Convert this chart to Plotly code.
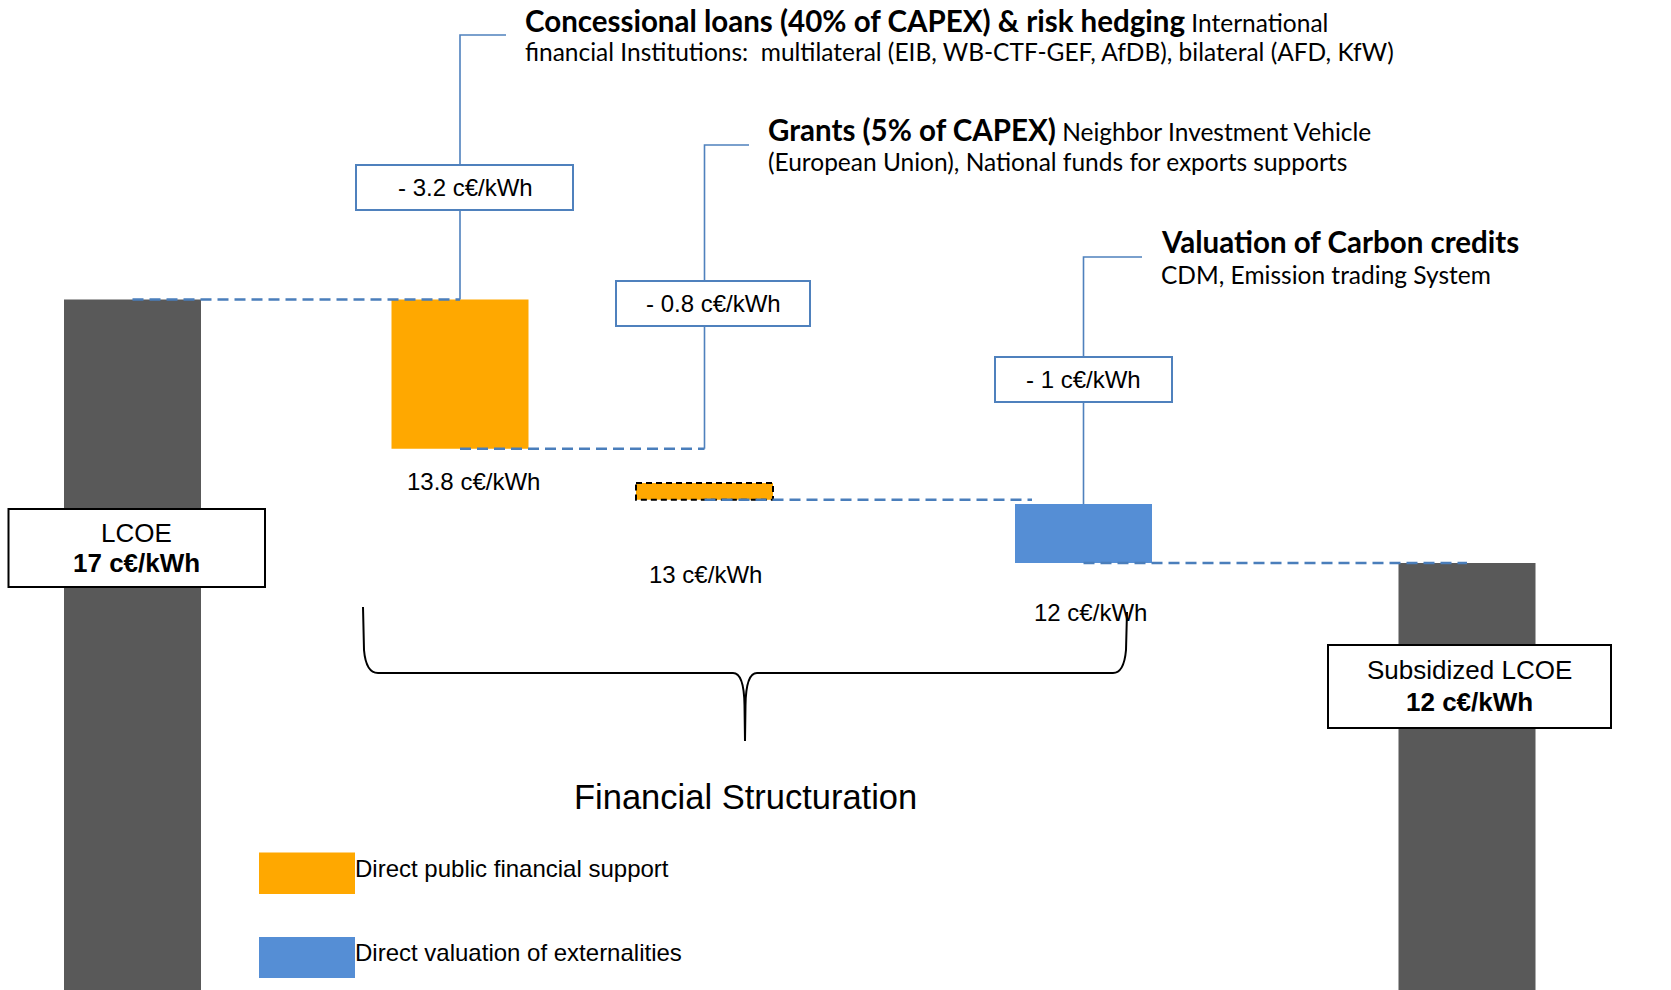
import plotly.graph_objects as go

# ---------------- data ----------------
stage_names = ["LCOE", "Concessional loans", "Grants", "Carbon credits", "Subsidized LCOE"]
stage_values = ["17 c€/kWh", "13.8 c€/kWh", "13 c€/kWh", "12 c€/kWh", "12 c€/kWh"]
reduction_labels = ["- 3.2 c€/kWh", "- 0.8 c€/kWh", "- 1 c€/kWh"]
# bar extents as drawn in the (schematic) picture, in c€/kWh
bar_top = [17.0, 17.0, 13.52, 13.12, 12.0]
bar_bottom = [0.0, 14.17, 13.20, 12.0, 0.0]
bar_kind = ["total", "public", "public", "externality", "total"]

callout_titles = [
    ("Concessional loans (40% of CAPEX) & risk hedging", " International",
     "financial Institutions:  multilateral (EIB, WB-CTF-GEF, AfDB), bilateral (AFD, KfW)"),
    ("Grants (5% of CAPEX)", " Neighbor Investment Vehicle",
     "(European Union), National funds for exports supports"),
    ("Valuation of Carbon credits", "", "CDM, Emission trading System"),
]
legend_items = [("public", "Direct public financial support"),
                ("externality", "Direct valuation of externalities")]

# ---------------- layout / styles ----------------
W, H = 1671, 990
Y0_PX, PX_PER_UNIT, Y0_VAL = 299.5, 52.7, 17.0


def px2v(p):
    return Y0_VAL - (p - Y0_PX) / PX_PER_UNIT


def pp(p):  # pixel y -> paper y
    return 1 - p / H


colors = {"total": "#595959", "public": "#FFA800", "externality": "#558ED5"}
LINE_BLUE = "#4F81BD"
DASH_BLUE = "#4A7EBB"
ARIAL = "Liberation Sans, Arial"
CALIBRI = "Lato, Carlito, Calibri"
BOLD_SIZE, NORMAL_SIZE = 29.5, 24.5

bar_x = [132.5, 460, 704.5, 1083.5, 1467]
bar_w = 137

fig = go.Figure()

heights = [t - b for t, b in zip(bar_top, bar_bottom)]
fig.add_trace(go.Bar(
    x=bar_x, y=heights, base=bar_bottom, width=bar_w,
    marker=dict(color=[colors[k] for k in bar_kind], line=dict(width=0)),
    hoverinfo="skip"))

# dashed outline of grants bar
i = 2
l, r = bar_x[i] - bar_w / 2, bar_x[i] + bar_w / 2
fig.add_trace(go.Scatter(
    x=[l, r, r, l, l], y=[bar_top[i], bar_top[i], bar_bottom[i], bar_bottom[i], bar_top[i]],
    mode="lines", line=dict(color="black", width=2, dash="6px,4px"), hoverinfo="skip"))

# dashed connectors between steps
connectors = [
    (bar_x[0], bar_x[1], bar_top[0]),
    (bar_x[1], bar_x[2], bar_bottom[1]),
    (bar_x[2], 1032, bar_bottom[2]),
    (bar_x[3], bar_x[4], bar_bottom[3]),
]
for x0, x1, yv in connectors:
    fig.add_trace(go.Scatter(x=[x0, x1], y=[yv, yv], mode="lines",
                             line=dict(color=DASH_BLUE, width=2.5, dash="11px,6px"),
                             hoverinfo="skip"))

# callout lines (vertical from bar up to title, then short horizontal)
callout_geo = [  # (x, start level, top px, end x)
    (bar_x[1], bar_top[1], 35, 506),
    (bar_x[2], bar_bottom[1], 145, 749),
    (bar_x[3], bar_top[3], 257, 1142),
]
for x, yv, top_px, xe in callout_geo:
    fig.add_trace(go.Scatter(x=[x, x, xe], y=[yv, px2v(top_px), px2v(top_px)], mode="lines",
                             line=dict(color=LINE_BLUE, width=1.6), hoverinfo="skip"))

shapes = []
annotations = []

# reduction boxes
red_boxes = [(356, 573, 165, 210, 465), (616, 810, 281, 326, 713), (995, 1172, 357, 402, 1083.5)]
for (x0, x1, y0, y1, xc), lab in zip(red_boxes, reduction_labels):
    shapes.append(dict(type="rect", xref="x", yref="paper", x0=x0, x1=x1, y0=pp(y1), y1=pp(y0),
                       fillcolor="white", line=dict(color=LINE_BLUE, width=2), layer="above"))
    annotations.append(dict(x=xc, y=pp((y0 + y1) / 2), xref="x", yref="paper", text=lab,
                            showarrow=False, xanchor="center", yanchor="middle",
                            font=dict(family=ARIAL, size=24, color="black")))

# callout titles
title_pos = [(523, 20, 51), (766, 130, 162), (1159, 241, 274)]
for (x, y1, y2), (bold, rest, line2) in zip(title_pos, callout_titles):
    annotations.append(dict(
        x=x, y=pp(y1), xref="x", yref="paper",
        text=f'<span style="font-size:{BOLD_SIZE}px"><b>{bold}</b></span>{rest}',
        showarrow=False, xanchor="left", yanchor="middle",
        font=dict(family=CALIBRI, size=NORMAL_SIZE, color="black")))
    annotations.append(dict(
        x=x, y=pp(y2), xref="x", yref="paper", text=line2,
        showarrow=False, xanchor="left", yanchor="middle",
        font=dict(family=CALIBRI, size=NORMAL_SIZE, color="black")))

# value labels under intermediate bars
val_pos = [(473, 481), (705.5, 574), (1090, 612)]
for (x, y), lab in zip(val_pos, stage_values[1:4]):
    annotations.append(dict(x=x, y=pp(y), xref="x", yref="paper", text=lab, showarrow=False,
                            xanchor="center", yanchor="middle",
                            font=dict(family=ARIAL, size=24, color="black")))

# total boxes
total_boxes = [(8.5, 265, 509, 587, 136, 533, 563, 0), (1328, 1611, 645, 728, 1469.5, 670, 702, 4)]
total_titles = ["LCOE", "Subsidized LCOE"]
for (x0, x1, y0, y1, xc, ya, yb, idx), t in zip(total_boxes, total_titles):
    shapes.append(dict(type="rect", xref="x", yref="paper", x0=x0, x1=x1, y0=pp(y1), y1=pp(y0),
                       fillcolor="white", line=dict(color="black", width=2), layer="above"))
    annotations.append(dict(x=xc, y=pp(ya), xref="x", yref="paper", text=t, showarrow=False,
                            xanchor="center", yanchor="middle",
                            font=dict(family=ARIAL, size=26, color="black")))
    annotations.append(dict(x=xc, y=pp(yb), xref="x", yref="paper", text=f"<b>{stage_values[idx]}</b>",
                            showarrow=False, xanchor="center", yanchor="middle",
                            font=dict(family=ARIAL, size=26, color="black")))

# curly brace


def P(x, y):
    return f"{x},{pp(y):.5f}"


brace = ("M " + P(363, 607) + " L " + P(364, 650) + " Q " + P(366, 673) + " " + P(378, 673)
         + " L " + P(733, 673) + " Q " + P(744, 673) + " " + P(744.5, 705) + " L " + P(745, 741)
         + " L " + P(745.5, 705) + " Q " + P(746, 673) + " " + P(757, 673)
         + " L " + P(1113, 673) + " Q " + P(1124, 673) + " " + P(1126, 650) + " L " + P(1127, 612))
shapes.append(dict(type="path", xref="x", yref="paper", path=brace,
                   line=dict(color="black", width=2), layer="above"))
annotations.append(dict(x=745, y=pp(797), xref="x", yref="paper", text="Financial Structuration",
                        showarrow=False, xanchor="center", yanchor="middle",
                        font=dict(family=ARIAL, size=34.5, color="black")))

# legend
leg_rows = [(852.5, 894), (937, 978)]
for (y0, y1), (kind, txt) in zip(leg_rows, legend_items):
    shapes.append(dict(type="rect", xref="x", yref="paper", x0=259, x1=355, y0=pp(y1), y1=pp(y0),
                       fillcolor=colors[kind], line=dict(width=0), layer="above"))
    annotations.append(dict(x=353, y=pp((y0 + y1) / 2 - 5), xref="x", yref="paper", text=txt,
                            showarrow=False, xanchor="left", yanchor="middle",
                            font=dict(family=ARIAL, size=24, color="black")))

fig.update_layout(
    width=W, height=H, margin=dict(l=0, r=0, t=0, b=0),
    paper_bgcolor="white", plot_bgcolor="white", showlegend=False,
    xaxis=dict(range=[0, W], visible=False, fixedrange=True),
    yaxis=dict(range=[px2v(H), px2v(0)], visible=False, fixedrange=True),
    shapes=shapes, annotations=annotations,
)

fig.write_html("out.html", config={"displayModeBar": False},
               post_script="document.body.style.margin='0';document.body.style.padding='0';"
                           "document.documentElement.style.overflow='hidden';")
